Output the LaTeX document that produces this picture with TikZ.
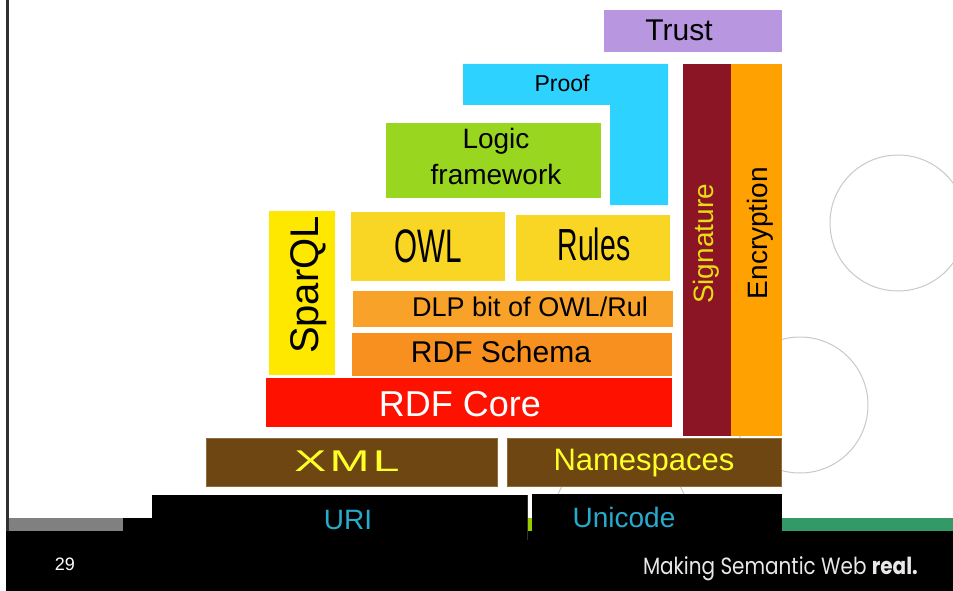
\documentclass[tikz,border=0pt]{standalone}
\usepackage{fontspec}
\setmainfont{Liberation Sans}
\newfontfamily\narrowfont[FakeStretch=0.63]{Liberation Sans}
\newfontfamily\slogfont[FakeStretch=0.85]{Poppins}

\definecolor{trustC}{RGB}{185,150,224}
\definecolor{proofC}{RGB}{45,210,255}
\definecolor{logicC}{RGB}{153,214,32}
\definecolor{sigC}{RGB}{139,20,37}
\definecolor{encC}{RGB}{255,161,0}
\definecolor{sparqlC}{RGB}{255,232,0}
\definecolor{owlC}{RGB}{249,214,35}
\definecolor{dlpC}{RGB}{249,162,42}
\definecolor{schemaC}{RGB}{247,144,31}
\definecolor{coreC}{RGB}{255,17,0}
\definecolor{xmlC}{RGB}{110,70,18}
\definecolor{xmlEdge}{RGB}{142,106,62}
\definecolor{txtYellow}{RGB}{255,255,40}
\definecolor{sigText}{RGB}{232,220,20}
\definecolor{uriText}{RGB}{40,170,205}
\definecolor{ringC}{RGB}{200,200,200}
\definecolor{barGray}{RGB}{128,128,128}
\definecolor{barGreen}{RGB}{51,153,102}
\definecolor{barLime}{RGB}{153,204,0}
\definecolor{edgeDark}{RGB}{48,48,48}
\definecolor{slogC}{RGB}{232,232,232}

% a filled layer block given by its corners (x1,y1) and (x2,y2)
\newcommand\layerbox[7][]{%
  \node[layer, fill=#7, minimum width={(#4-#2)*1pt}, minimum height={(#5-#3)*1pt}, #1]
    (#6) at ({(#2+#4)/2},{(#3+#5)/2}) {};}

\begin{document}
\begin{tikzpicture}[x=1pt, y=-1pt,
  layer/.style={rectangle, draw=none, inner sep=0pt, outer sep=0pt},
  lbl/.style={anchor=base, inner sep=0pt, outer sep=0pt},
  ring/.style={draw=ringC, line width=1pt}]
\useasboundingbox (0,0) rectangle (953,591);
\clip (0,0) rectangle (953,591);

% background rings
\draw[ring] (898,223) circle[radius=68];
\draw[ring] (800,405) circle[radius=68];
\draw[ring] (621,520) circle[radius=68];

% left border line
\fill[edgeDark] (6,0) rectangle (9,531);

% upper layers
\layerbox{604}{10}{782}{52}{trust}{trustC}
\fill[proofC] (463,64) -- (668,64) -- (668,205) -- (610,205) -- (610,105) -- (463,105) -- cycle;
\coordinate (proof) at (562,84);
\layerbox{386}{123}{601}{198}{logic}{logicC}
\layerbox{683}{64}{731}{436}{signature}{sigC}
\layerbox{731}{64}{782}{436}{encryption}{encC}
\layerbox{269}{211}{335}{375}{sparql}{sparqlC}
\layerbox{351}{212}{505}{281}{owl}{owlC}
\layerbox{516}{215}{670}{281}{rules}{owlC}
\layerbox{353}{291}{673}{327}{dlp}{dlpC}
\layerbox{352}{333}{672}{376}{schema}{schemaC}
\layerbox{266}{378}{672}{427}{core}{coreC}
\layerbox[draw=xmlEdge, line width=1pt]{206.5}{438.5}{497}{486.5}{xml}{xmlC}
\layerbox[draw=xmlEdge, line width=1pt]{507.5}{438.5}{781.5}{486.5}{namespaces}{xmlC}

% footer band
\fill[black] (6,531) rectangle (953,591);
\fill[barGray] (9,518) rectangle (123,531);
\fill[black] (123,518) rectangle (152,531);
\fill[barLime] (528,518) rectangle (532,531);
\fill[barGreen] (782,518) rectangle (953,531);
\layerbox{152}{495}{528}{531}{uri}{black}
\layerbox{532}{494}{782}{531}{unicode}{black}
\fill[edgeDark] (527,495) rectangle (528,540);

% labels
\node[lbl, font=\fontsize{30}{36}\selectfont] (trustT) at (679,41) {Trust};
\node[lbl, font=\fontsize{23}{28}\selectfont] (proofT) at (562,92) {Proof};
\node[lbl, font=\fontsize{28}{34}\selectfont] (logicT1) at (496,149) {Logic};
\node[lbl, font=\fontsize{28}{34}\selectfont] (logicT2) at (496,184) {framework};
\node[lbl, font=\narrowfont\fontsize{47}{56}\selectfont] (owlT) at (428,262) {OWL};
\node[lbl, font=\narrowfont\fontsize{45}{54}\selectfont] (rulesT) at (594,260) {Rules};
\node[lbl, rotate=90, font=\fontsize{40}{48}\selectfont] (sparqlT) at (318,285) {SparQL};
\node[lbl, font=\fontsize{27}{32}\selectfont] (dlpT) at (530,316) {DLP bit of OWL/Rul};
\node[lbl, font=\fontsize{30}{36}\selectfont] (schemaT) at (501,362) {RDF Schema};
\node[lbl, text=white, font=\fontsize{36}{43}\selectfont] (coreT) at (460,416) {RDF Core};
\node[lbl, rotate=90, text=sigText, font=\fontsize{28}{34}\selectfont] (sigT) at (713,244) {Signature};
\node[lbl, rotate=90, font=\fontsize{28}{34}\selectfont] (encT) at (767,233) {Encryption};
\node[lbl, text=txtYellow, font=\fontsize{30}{36}\selectfont] (xmlT) at (347,471)
  {\scalebox{1.6}[1]{X\kern2pt M\kern2pt L}};
\node[lbl, text=txtYellow, font=\fontsize{31}{37}\selectfont] (nsT) at (644,470) {Namespaces};
\node[lbl, text=uriText, font=\fontsize{28}{34}\selectfont] (uriT) at (348,529) {URI};
\node[lbl, text=uriText, font=\fontsize{28}{34}\selectfont] (unicodeT) at (624,527) {Unicode};
\node[lbl, text=white, font=\fontsize{18}{22}\selectfont] (pageT) at (65,570) {29};
\node[lbl, anchor=base west, text=slogC, font=\slogfont\fontsize{23.5}{28}\selectfont] (slogT) at (643,574)
  {Making Semantic Web \textbf{real.}};
\end{tikzpicture}
\end{document}
